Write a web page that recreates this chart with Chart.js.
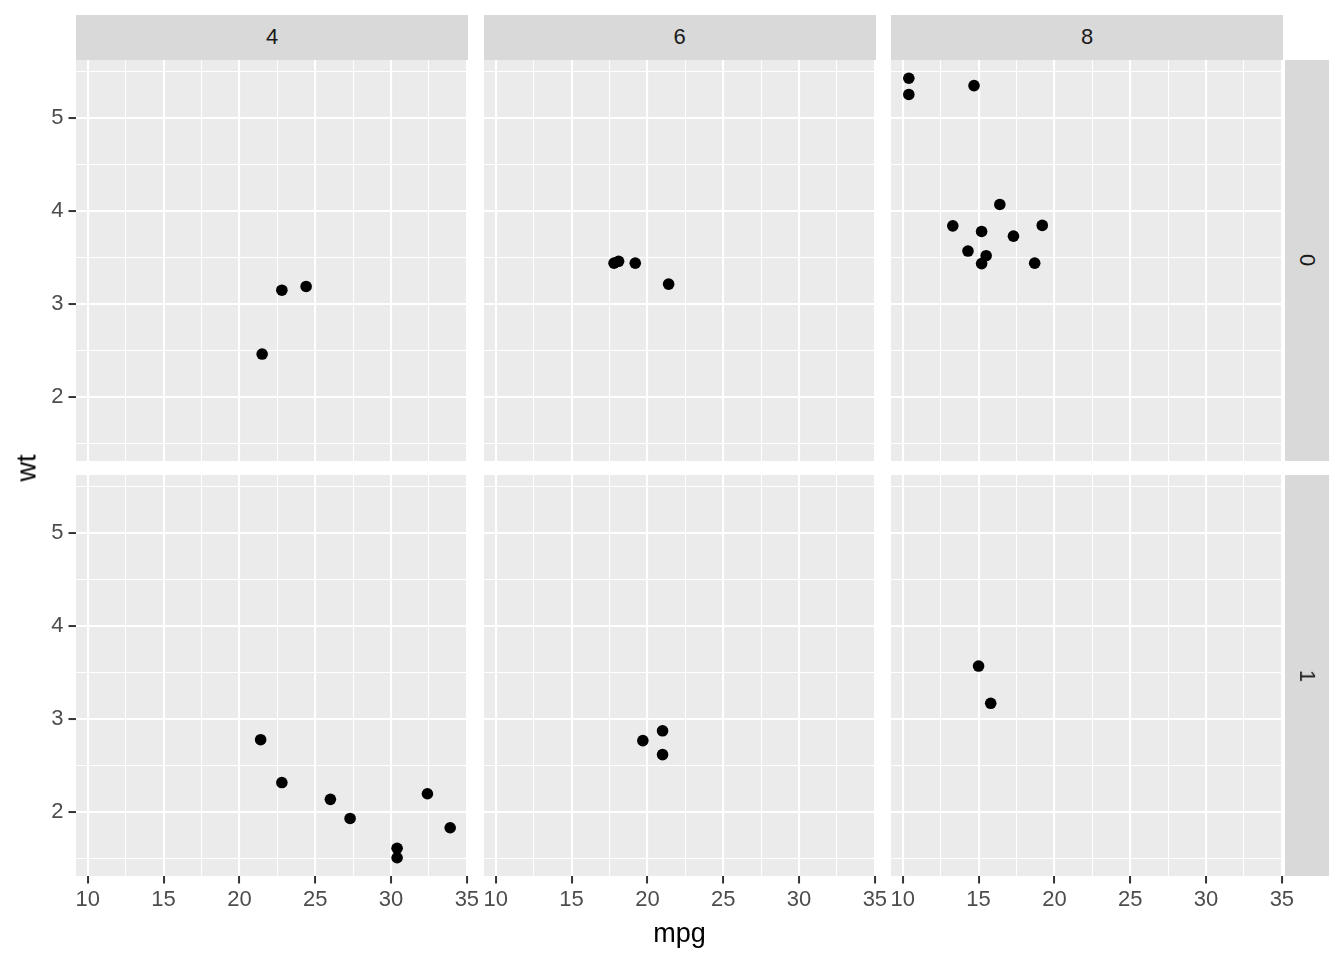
<!DOCTYPE html>
<html>
<head>
<meta charset="utf-8">
<script src="https://cdn.jsdelivr.net/npm/chart.js@4"></script>
<style>
  body { margin: 0; background: #fff; width: 1344px; height: 960px; position: relative; overflow: hidden;
         font-family: "Liberation Sans", Arial, sans-serif; }
  canvas { position: absolute; }
  .strip { position: absolute; background: #D9D9D9; color: #1A1A1A; font-size: 22px;
           display: flex; align-items: center; justify-content: center; }
  .strip span { display: block; }
  .title { position: absolute; color: #000; font-size: 27px; white-space: nowrap; }
</style>
</head>
<body>
<script>
// mtcars: mpg, wt, cyl, am
const carMpg = [21.0, 21.0, 22.8, 21.4, 18.7, 18.1, 14.3, 24.4, 22.8, 19.2, 17.8, 16.4, 17.3, 15.2, 10.4, 10.4,
                14.7, 32.4, 30.4, 33.9, 21.5, 15.5, 15.2, 13.3, 19.2, 27.3, 26.0, 30.4, 15.8, 19.7, 15.0, 21.4];
const carWt = [2.620, 2.875, 2.320, 3.215, 3.440, 3.460, 3.570, 3.190, 3.150, 3.440, 3.440, 4.070, 3.730, 3.780, 5.250, 5.424,
               5.345, 2.200, 1.615, 1.835, 2.465, 3.520, 3.435, 3.840, 3.845, 1.935, 2.140, 1.513, 3.170, 2.770, 3.570, 2.780];
const carCyl = [6, 6, 4, 6, 8, 6, 8, 4, 4, 6, 6, 8, 8, 8, 8, 8, 8, 4, 4, 4, 4, 8, 8, 8, 8, 4, 4, 4, 8, 6, 8, 4];
const carAm = [1, 1, 1, 0, 0, 0, 0, 0, 0, 0, 0, 0, 0, 0, 0, 0, 0, 1, 1, 1, 0, 0, 0, 0, 0, 1, 1, 1, 1, 1, 1, 1];

const cylLevels = [4, 6, 8];
const amLevels = [0, 1];

const xMajor = [10, 15, 20, 25, 30, 35];
const xMinor = [12.5, 17.5, 22.5, 27.5, 32.5];
const yMajor = [2, 3, 4, 5];
const yMinor = [1.5, 2.5, 3.5, 4.5, 5.5];
const xRange = [9.225, 35.075];
const yRange = [1.31745, 5.61955];

// layout (px)
const panelLeft = [76, 483.5, 891];
const panelTop = [59.5, 475];
const panelW = 392;
const panelH = 401;
const axisH = 44;
const overhang = 14;

const bgPlugin = {
  id: 'panelBg',
  beforeDraw(chart) {
    const a = chart.chartArea, c = chart.ctx;
    c.save();
    c.fillStyle = '#EBEBEB';
    c.fillRect(a.left, a.top, a.right - a.left, a.bottom - a.top);
    c.restore();
  }
};

function makeAxis(major, minor, range, showLabels, size, isX) {
  return {
    type: 'linear',
    position: isX ? 'bottom' : 'left',
    min: range[0],
    max: range[1],
    afterBuildTicks: s => { s.ticks = major.concat(minor).sort((a, b) => a - b).map(v => ({ value: v })); },
    afterFit: s => {
      if (isX) s.height = size; else s.width = size;
      s.paddingLeft = s.paddingRight = s.paddingTop = s.paddingBottom = 0;
    },
    border: { display: false },
    grid: {
      color: '#FFFFFF',
      lineWidth: ctx => major.includes(ctx.tick.value) ? 2.1 : 1.05,
      drawTicks: showLabels,
      tickLength: 7.5,
      tickWidth: 2,
      tickColor: ctx => major.includes(ctx.tick.value) ? '#333333' : 'rgba(0,0,0,0)'
    },
    ticks: {
      display: showLabels,
      autoSkip: false,
      maxRotation: 0,
      padding: isX ? 3 : 5,
      color: '#4D4D4D',
      font: { family: '"Liberation Sans", Arial, sans-serif', size: 22 },
      callback: v => major.includes(v) ? String(v) : ''
    }
  };
}

amLevels.forEach((am, r) => {
  cylLevels.forEach((cyl, c) => {
    const pts = [];
    carMpg.forEach((m, i) => {
      if (carCyl[i] === cyl && carAm[i] === am) pts.push({ x: m, y: carWt[i] });
    });
    const padL = c === 0 ? 0 : overhang;
    const left = c === 0 ? 0 : panelLeft[c] - padL;
    const w = panelW + (c === 0 ? panelLeft[0] : padL) + overhang;
    const h = panelH + (r === 1 ? axisH : 0);
    const cv = document.createElement('canvas');
    cv.width = w; cv.height = h;
    cv.style.left = left + 'px'; cv.style.top = panelTop[r] + 'px';
    cv.style.width = w + 'px'; cv.style.height = h + 'px';
    document.body.appendChild(cv);
    new Chart(cv.getContext('2d'), {
      type: 'scatter',
      data: { datasets: [{ data: pts, backgroundColor: '#000', borderWidth: 0, pointRadius: 5.8 }] },
      options: {
        responsive: false,
        animation: false,
        events: [],
        layout: { autoPadding: false, padding: { left: padL, right: overhang, top: 0, bottom: 0 } },
        plugins: { legend: { display: false }, tooltip: { enabled: false } },
        scales: {
          x: makeAxis(xMajor, xMinor, xRange, r === 1, r === 1 ? axisH : 0, true),
          y: makeAxis(yMajor, yMinor, yRange, c === 0, c === 0 ? panelLeft[0] : 0, false)
        }
      },
      plugins: [bgPlugin]
    });
  });
});

// facet strips
cylLevels.forEach((cyl, c) => {
  const d = document.createElement('div');
  d.className = 'strip';
  d.style.left = panelLeft[c] + 'px'; d.style.top = '15px';
  d.style.width = panelW + 'px'; d.style.height = '44.5px';
  d.innerHTML = '<span>' + cyl + '</span>';
  document.body.appendChild(d);
});
amLevels.forEach((am, r) => {
  const d = document.createElement('div');
  d.className = 'strip';
  d.style.left = '1284.5px'; d.style.top = panelTop[r] + 'px';
  d.style.width = '44.5px'; d.style.height = panelH + 'px';
  d.innerHTML = '<span style="transform: rotate(90deg)">' + am + '</span>';
  document.body.appendChild(d);
});

// axis titles
const xt = document.createElement('div');
xt.className = 'title'; xt.textContent = 'mpg';
xt.style.left = '679.5px'; xt.style.top = '933px'; xt.style.transform = 'translate(-50%, -50%)';
document.body.appendChild(xt);
const yt = document.createElement('div');
yt.className = 'title'; yt.textContent = 'wt';
yt.style.left = '27px'; yt.style.top = '467.5px'; yt.style.transform = 'translate(-50%, -50%) rotate(-90deg)';
document.body.appendChild(yt);
</script>
</body>
</html>
